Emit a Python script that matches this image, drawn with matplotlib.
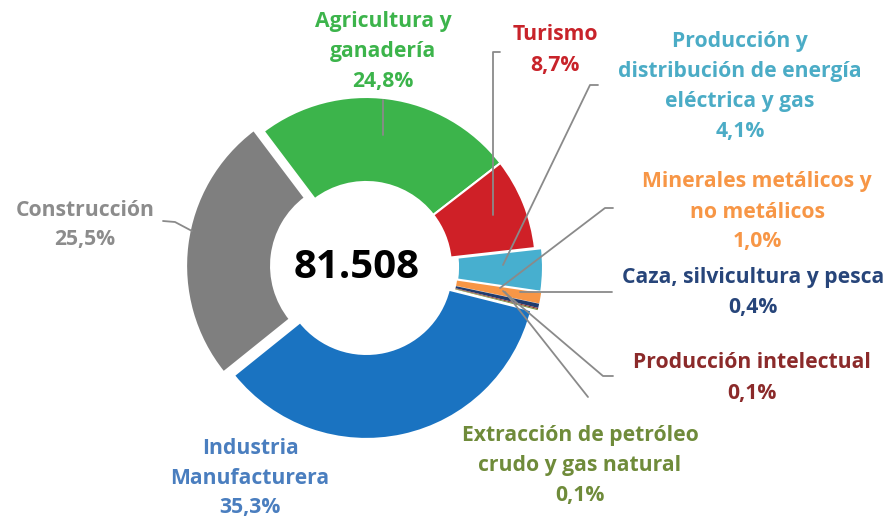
import matplotlib.pyplot as plt

# Data
sectors = ['Agricultura y\nganadería', 'Turismo',
           'Producción y\ndistribución de energía\neléctrica y gas',
           'Minerales metálicos y\nno metálicos', 'Caza, silvicultura y pesca',
           'Producción intelectual', 'Extracción de petróleo\ncrudo y gas natural',
           'Industria\nManufacturera', 'Construcción']
shares = [24.8, 8.7, 4.1, 1.0, 0.4, 0.1, 0.1, 35.3, 25.5]
total_label = '81.508'

wedge_colors = ['#3cb44b', '#cf2027', '#47afcf', '#f79646', '#203c6e',
                '#8b2424', '#77933c', '#1a73c1', '#7f7f7f']
text_colors = ['#3cb44b', '#c8232a', '#4bacc6', '#f79646', '#27457a',
               '#8b2a2a', '#6f8b3a', '#4a7ebf', '#8c8c8c']

W, H = 893, 517
plt.rcParams['font.family'] = ['Open Sans', 'DejaVu Sans']

fig = plt.figure(figsize=(W / 100, H / 100), dpi=100)
ax = fig.add_axes([0, 0, 1, 1])

def Y(y):
    # pixel row (from top) to data y
    return H - y

cx, cy, R = 366, 267, 170
# pie's explode is in data units here (pixels)
explode = [0, 0, 7, 7, 7, 7, 7, 2, 10]
wedges, _ = ax.pie(shares, colors=wedge_colors, startangle=127, counterclock=False,
                   center=(cx, Y(cy)), radius=R, explode=explode,
                   wedgeprops=dict(width=85, edgecolor='white', linewidth=1.5))
# the thin slices would vanish under a white edge
for w in wedges[3:7]:
    w.set_linewidth(0)

ax.text(357, Y(268), total_label, ha='center', va='center', fontsize=29,
        fontweight='bold', color='black')

# label positions (center x, first line y) in pixels
label_pos = [(383, 22), (555, 35), (740, 42), (757, 182), (753, 278),
             (752, 363), (580, 435), (250, 448), (85, 210)]
line_h = 30

for name, val, col, (lx, ly) in zip(sectors, shares, text_colors, label_pos):
    lines = name.split('\n') + [f'{val:.1f}%'.replace('.', ',')]
    for i, s in enumerate(lines):
        ax.text(lx, Y(ly + i * line_h), s, ha='center', va='center',
                fontsize=15.2, fontweight='bold', color=col)

# leader lines
leaders = [
    [(383, 100), (383, 135)],
    [(500, 52), (493, 52), (493, 215)],
    [(598, 85), (590, 85), (503, 265)],
    [(613, 208), (605, 208), (500, 288)],
    [(612, 292), (520, 292)],
    [(613, 376), (603, 376), (503, 291)],
    [(588, 397), (505, 292)],
    [(163, 221), (175, 222), (192, 231)],
]
for pts in leaders:
    xs = [p[0] for p in pts]
    ys = [Y(p[1]) for p in pts]
    ax.plot(xs, ys, color='#8a8a8a', lw=1.3, solid_capstyle='round')

ax.set_xlim(0, W)
ax.set_ylim(0, H)
ax.set_aspect('auto')
ax.axis('off')

fig.savefig('out.png', dpi=100, facecolor='white')
